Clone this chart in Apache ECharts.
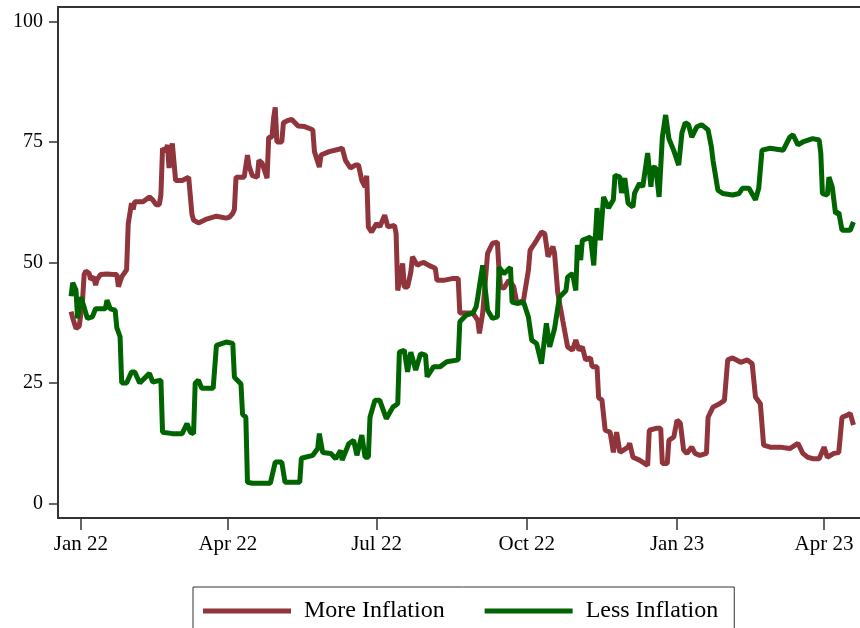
<!DOCTYPE html>
<html><head><meta charset="utf-8">
<script src="https://cdn.jsdelivr.net/npm/echarts@6/dist/echarts.min.js"></script>
<style>html,body{margin:0;padding:0;background:#fff}#c{width:860px;height:628px}</style>
</head><body><div id="c"></div>
<script>
// Days are counted from 2022-01-01
const seriesNames = ['More Inflation', 'Less Inflation'];
const tickDates = ['2022-01-01','2022-04-01','2022-07-01','2022-10-01','2023-01-01','2023-04-01'];
const tickLabels = ['Jan 22','Apr 22','Jul 22','Oct 22','Jan 23','Apr 23'];
const yTicks = [0, 25, 50, 75, 100];

const moreInflation = [[-6,39.8],[-5,38.5],[-3,36.3],[-1,36.8],[1,42],[2,47.5],[3,48.2],[5,47.8],[6,46.5],[8,47],[9,45.3],[10,46.5],[12,47.5],[16,47.6],[20,47.5],[22,47.5],[23,45],[24,45],[25,47],[27,48],[28,48.5],[29,58],[30,58.2],[31,62.3],[32,61],[33,62.6],[38,62.6],[42,63.6],[44,63],[46,62],[48,62],[49,64],[50,73.7],[52,73],[53,74.4],[54,69.6],[56,74.7],[57,74.5],[58,67],[62,67],[66,67.7],[67,67.5],[68,60],[69,58.8],[72,58.2],[77,59],[83,59.6],[89,59.2],[91,59.4],[93,60.2],[94,61],[95,67.7],[100,67.7],[101,70],[102,72.3],[103,70],[105,68],[108,67.7],[109,71.2],[111,70.6],[113,68.5],[114,67.5],[115,76],[117,76],[118,80],[119,82.2],[120,75],[123,75],[124,79],[127,79.5],[129,79.7],[133,78.3],[137,78.2],[140,77.8],[142,77.5],[143,73],[146,69.8],[147,72.3],[152,73],[158,73.5],[160,73.7],[162,71.2],[165,69.6],[168,70.2],[170,70.2],[172,67],[174,65.7],[175,68],[176,57.4],[178,56.3],[181,58.1],[183,57.4],[186,59.8],[188,57.4],[192,57.7],[193,56],[194,44.2],[196,48],[197,49.8],[198,44.9],[200,44.9],[202,48],[203,51.2],[206,49.4],[208,49.8],[210,50],[213,49.4],[217,48.8],[218,46.3],[222,46.3],[228,46.7],[231,46.7],[232,39.5],[237,39.5],[240,39.5],[243,38],[244,35.3],[246,39.5],[249,51.9],[252,54],[255,54.2],[256,48.4],[257,44.9],[259,44.7],[262,46.3],[265,45],[267,41.5],[271,42.2],[274,48.4],[275,52.5],[279,54.6],[282,56.3],[284,56],[286,51.2],[289,53.3],[290,51.9],[292,43.6],[295,38],[298,32.5],[301,31.8],[303,33.9],[305,31.8],[307,32.5],[309,29.8],[312,30.2],[313,28.4],[316,28.4],[317,21.9],[319,21.5],[321,15.2],[324,14.8],[326,10.6],[328,14.8],[330,10.6],[335,11.7],[336,12.5],[338,9.6],[342,9],[347,7.9],[348,15.2],[352,15.6],[355,15.6],[356,8.3],[359,8.3],[360,13.1],[363,13.8],[365,17.3],[367,16.7],[369,11.1],[371,10.4],[374,11.7],[376,10.4],[379,10],[383,10.4],[384,17.9],[387,20],[391,20.7],[394,21.4],[396,29.8],[399,30.2],[404,29.3],[408,29.8],[411,29],[413,22.1],[416,20.7],[418,12.1],[422,11.7],[428,11.7],[434,11.4],[439,12.5],[442,10.4],[445,9.6],[448,9.3],[452,9.3],[455,11.7],[457,9.6],[461,10.4],[464,10.6],[466,17.9],[469,18.3],[471,18.7],[473,16.3]];

const lessInflation = [[-6,43],[-5,45.8],[-4,46],[-3,44.3],[-2,38.4],[-1,38.4],[0,42.8],[2,40.7],[4,38.4],[7,38.7],[9,40.4],[15,40.4],[16,42.2],[18,40.4],[21,40.1],[22,36.5],[24,34.6],[25,25],[28,25],[31,27.3],[33,27.3],[36,25],[42,27],[44,25.2],[49,25.6],[50,14.8],[56,14.5],[62,14.5],[65,16.6],[67,14.8],[69,14.5],[70,25],[72,25.6],[74,23.9],[81,23.9],[83,32.8],[89,33.5],[93,33.2],[94,26.2],[98,24.8],[99,18.5],[101,17.9],[102,4.4],[105,4.2],[116,4.2],[119,8.6],[123,8.6],[125,4.4],[134,4.4],[135,9.4],[142,10],[145,11.4],[146,14.5],[148,10.6],[153,10.4],[156,9.3],[159,11],[160,9],[164,12.4],[167,13.1],[169,10],[172,14.2],[174,9.6],[176,9.6],[177,17.9],[180,21.4],[183,21.4],[187,17.6],[191,20],[194,20.7],[195,31.4],[198,31.8],[200,27.3],[202,31.4],[205,27.7],[208,31.1],[211,30.8],[212,26.3],[216,28.4],[220,28.4],[224,29.4],[231,29.8],[232,37.7],[236,39.1],[240,39.5],[242,40.8],[243,42.8],[246,49.4],[247,46.3],[249,40.1],[252,38.4],[255,38.7],[256,49],[259,47.7],[263,49],[264,41.8],[267,41.5],[271,41.8],[274,38.7],[276,33.9],[279,33.2],[282,29],[285,37.4],[287,32.5],[290,36.3],[293,42.8],[297,44.2],[298,47],[301,47.7],[303,44.2],[304,53.6],[306,50.5],[307,54.6],[312,55.3],[314,49.4],[316,61.3],[318,54.6],[320,63.6],[323,61.3],[326,63],[327,68.1],[330,67.7],[331,64.4],[333,67.5],[335,62.3],[338,61.5],[339,64.4],[342,66.4],[344,65.7],[347,72.7],[349,65.7],[350,69.8],[352,69.6],[354,63.6],[356,76],[358,80.6],[360,75.7],[363,73.2],[366,70.2],[368,76.9],[370,79],[372,78.6],[374,76],[377,78.1],[380,78.6],[384,77.5],[386,74],[387,71.2],[390,65],[393,64.3],[399,64],[403,64.3],[405,65.4],[409,65.4],[413,63],[415,65.4],[417,73.3],[422,73.7],[430,73.3],[434,76],[436,76.5],[439,74.4],[442,75],[448,75.7],[452,75.4],[453,72.7],[454,64.3],[457,64],[458,67.7],[460,65.7],[462,60.2],[464,60.4],[466,56.7],[471,56.7],[473,58.4]];

const DAY = 86400000;
const toTime = d => new Date(2022, 0, 1 + d).getTime();
const parseDate = s => { const p = s.split('-').map(Number); return new Date(p[0], p[1]-1, p[2]).getTime(); };
const tickTimes = tickDates.map(parseDate);
const toSeries = arr => arr.map(p => [toTime(p[0]), p[1]]);

const FONT = "'Liberation Serif','Times New Roman',serif";
const AX = '#333';

const chart = echarts.init(document.getElementById('c'), null, {renderer: 'canvas'});
chart.setOption({
  animation: false,
  backgroundColor: '#fff',
  grid: {left: 58, right: 0, top: 7, bottom: 110, containLabel: false},
  xAxis: [{
    type: 'value',
    min: toTime(-14), max: toTime(477),
    axisLine: {show: true, onZero: false, lineStyle: {color: AX, width: 2}},
    axisTick: {show: true, length: 12, lineStyle: {color: AX, width: 1.5}, customValues: tickTimes},
    axisLabel: {
      customValues: tickTimes, margin: 16, color: '#000',
      fontFamily: FONT, fontSize: 21,
      formatter: v => {
        let best = 0, bd = Infinity;
        tickTimes.forEach((t, i) => { const dd = Math.abs(t - v); if (dd < bd) { bd = dd; best = i; } });
        return bd < 5 * DAY ? tickLabels[best] : '';
      }
    },
    splitLine: {show: false}
  }, {
    type: 'value', position: 'top', min: 0, max: 1,
    axisLine: {show: true, onZero: false, lineStyle: {color: AX, width: 2}},
    axisTick: {show: false}, axisLabel: {show: false}, splitLine: {show: false}
  }],
  yAxis: {
    type: 'value', min: -3, max: 103,
    axisLine: {show: true, onZero: false, lineStyle: {color: AX, width: 2}},
    axisTick: {show: true, length: 9, lineStyle: {color: AX, width: 1.5}, customValues: yTicks},
    axisLabel: {customValues: yTicks, margin: 15, color: '#000', fontFamily: FONT, fontSize: 20},
    splitLine: {show: false}
  },
  legend: {
    left: 193, top: 587,
    orient: 'horizontal',
    padding: [12, 16, 10, 10],
    borderColor: '#333', borderWidth: 1,
    itemWidth: 88, itemHeight: 14, itemGap: 40,
    icon: 'path://M0,0H88V5H0Z',
    textStyle: {fontFamily: FONT, fontSize: 24, color: '#000', padding: [12, 0, 0, 8]},
    data: seriesNames
  },
  series: [{
    name: seriesNames[0], type: 'line', xAxisIndex: 0,
    data: toSeries(moreInflation), showSymbol: false, symbol: 'none',
    lineStyle: {color: '#90353b', width: 5, join: 'bevel'}, itemStyle: {color: '#90353b'}
  }, {
    name: seriesNames[1], type: 'line', xAxisIndex: 0,
    data: toSeries(lessInflation), showSymbol: false, symbol: 'none',
    lineStyle: {color: '#006400', width: 5, join: 'bevel'}, itemStyle: {color: '#006400'}
  }]
});
</script></body></html>
